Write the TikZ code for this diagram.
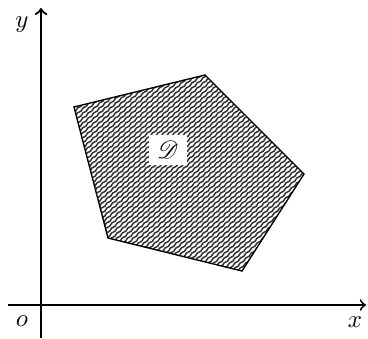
\documentclass[tikz,border=0pt]{standalone}
\usepackage{mathrsfs}
\usetikzlibrary{decorations.pathmorphing}
\begin{document}
\begin{tikzpicture}[x=0.282cm, y=0.282cm, line width=0.55pt, font=\normalsize,
  hatch/.style={line width=0.6pt, black!80, decorate,
    decoration={snake, amplitude=0.2pt, segment length=3pt}}]
  \useasboundingbox (-2.05,-1.65) rectangle (16.35,15.25);
  % axes
  \coordinate (xl) at (-1.65,0);
  \coordinate (xr) at (16.25,0);
  \coordinate (yb) at (0,-1.65);
  \coordinate (yt) at (0,14.85);
  \draw[->, line width=0.75pt] (xl) -- (xr);
  \draw[->, line width=0.9pt] (yb) -- (yt);
  \node (o) at (-0.95,-0.8) {$o$};
  \node (xlab) at (15.7,-0.85) {$x$};
  \node (ylab) at (-0.95,14.0) {$y$};
  % the region
  \coordinate (A) at (1.65,9.9);
  \coordinate (B) at (8.2,11.5);
  \coordinate (C) at (13.15,6.55);
  \coordinate (D) at (10.05,1.7);
  \coordinate (E) at (3.35,3.35);
  \begin{scope}
    \clip (A) -- (B) -- (C) -- (D) -- (E) -- cycle;
    \foreach \k in {-12.6,-12.33,...,13.6}
      \draw[hatch] (\k,-0.5) -- ++(42:20);
  \end{scope}
  \draw (A) -- (B) -- (C) -- (D) -- (E) -- cycle;
  \node[fill=white, minimum width=15pt, minimum height=12pt, inner sep=1pt] (reg) at (6.35,7.75) {$\mathscr{D}$};
\end{tikzpicture}
\end{document}
